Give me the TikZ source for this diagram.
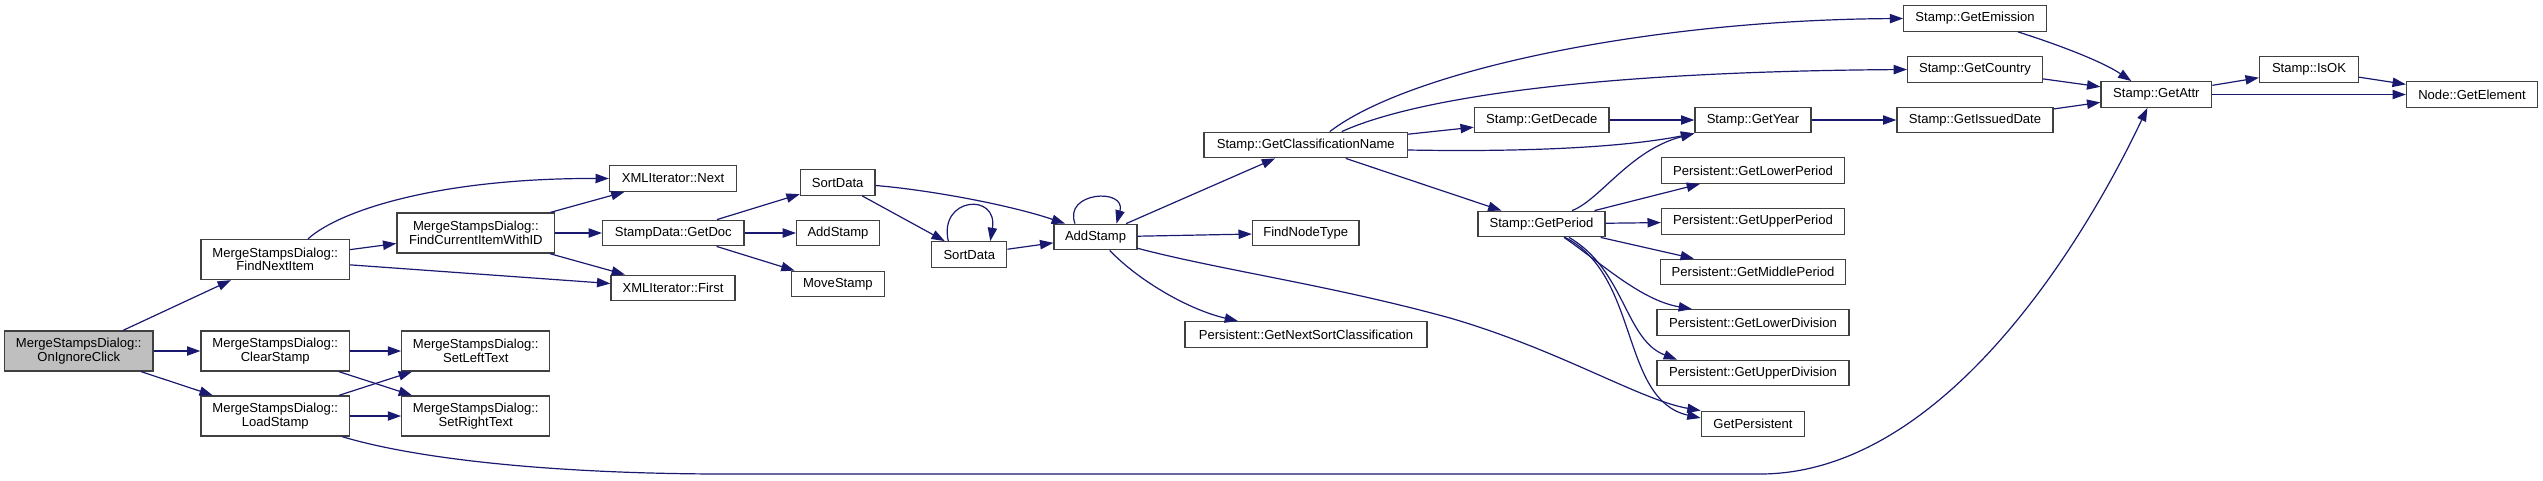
\documentclass[tikz,border=0pt]{standalone}
\usepackage{fontspec}
\setmainfont{Liberation Sans}
\usetikzlibrary{arrows.meta,calc}
\definecolor{edgecol}{HTML}{191970}
\definecolor{boxcol}{HTML}{404040}
\definecolor{startfill}{HTML}{BFBFBF}
\tikzset{
  nd/.style={draw=boxcol, line width=1pt, fill=white, align=center, inner sep=0pt,
    font=\fontsize{9.8pt}{10.2pt}\selectfont},
  bx/.style 2 args={minimum width=#1*0.75pt, minimum height=#2*0.75pt},
  ed/.style={draw=edgecol, line width=0.9pt,
    -{Triangle[length=10pt,width=7pt,fill=edgecol]}}
}
\begin{document}
\begin{tikzpicture}[x=0.75pt,y=-0.75pt]
\useasboundingbox (0,0) rectangle (2543,480);
% nodes
\node[nd,bx={148.5}{40},fill=startfill] (oic) at (78.75,351) {MergeStampsDialog::\\OnIgnoreClick};
\node[nd,bx={148.5}{40}] (fni) at (275.25,259.5) {MergeStampsDialog::\\FindNextItem};
\node[nd,bx={148.5}{40}] (cls) at (275.25,351) {MergeStampsDialog::\\ClearStamp};
\node[nd,bx={148.5}{40}] (lds) at (275.25,416) {MergeStampsDialog::\\LoadStamp};
\node[nd,bx={157.7}{40}] (fci) at (475.85,233) {MergeStampsDialog::\\FindCurrentItemWithID};
\node[nd,bx={148}{40}] (slt) at (475.75,351) {MergeStampsDialog::\\SetLeftText};
\node[nd,bx={148}{40}] (srt) at (475.75,416) {MergeStampsDialog::\\SetRightText};
\node[nd,bx={127}{25.5}] (nxt) at (673,178.5) {XMLIterator::Next};
\node[nd,bx={124}{25.5}] (fst) at (673,288) {XMLIterator::First};
\node[nd,bx={141.4}{25.5}] (gdc) at (673.3,233) {StampData::GetDoc};
\node[nd,bx={74.6}{25.5}] (sd1) at (837.7,182.5) {SortData};
\node[nd,bx={82.7}{25.5}] (as1) at (838,233) {AddStamp};
\node[nd,bx={92.6}{25.5}] (mvs) at (837.9,284) {MoveStamp};
\node[nd,bx={75}{25.5}] (sd2) at (969.3,254.5) {SortData};
\node[nd,bx={83}{25.5}] (ads) at (1095.5,237) {AddStamp};
\node[nd,bx={203.5}{25.5}] (gcn) at (1305.75,145) {Stamp::GetClassificationName};
\node[nd,bx={106.5}{25.5}] (fnt) at (1305.75,233) {FindNodeType};
\node[nd,bx={242}{25.5}] (gns) at (1306,334.5) {Persistent::GetNextSortClassification};
\node[nd,bx={142.5}{25.5}] (gem) at (1975,18.5) {Stamp::GetEmission};
\node[nd,bx={134.7}{25.5}] (gco) at (1975,69.5) {Stamp::GetCountry};
\node[nd,bx={134.5}{25.5}] (gdec) at (1541.75,120) {Stamp::GetDecade};
\node[nd,bx={116}{25.5}] (gyr) at (1753,120) {Stamp::GetYear};
\node[nd,bx={156}{25.5}] (gid) at (1975,120) {Stamp::GetIssuedDate};
\node[nd,bx={127}{25.5}] (gpr) at (1541.5,224) {Stamp::GetPeriod};
\node[nd,bx={183}{25.5}] (glp) at (1753,170.5) {Persistent::GetLowerPeriod};
\node[nd,bx={183}{25.5}] (gup) at (1753,221.5) {Persistent::GetUpperPeriod};
\node[nd,bx={185.5}{25.5}] (gmp) at (1753,272) {Persistent::GetMiddlePeriod};
\node[nd,bx={192}{25.5}] (gld) at (1753,322.5) {Persistent::GetLowerDivision};
\node[nd,bx={192}{25.5}] (gud) at (1753,373) {Persistent::GetUpperDivision};
\node[nd,bx={103.4}{25.5}] (gps) at (1753,424) {GetPersistent};
\node[nd,bx={110.7}{25.5}] (gat) at (2156.35,94.5) {Stamp::GetAttr};
\node[nd,bx={99}{25.5}] (iok) at (2309,69.5) {Stamp::IsOK};
\node[nd,bx={131}{25.5}] (gel) at (2472,94.5) {Node::GetElement};
% edges
\draw[ed] (oic) -- (fni);
\draw[ed] (oic) -- (cls);
\draw[ed] (oic) -- (lds);
\draw[ed] ($(fni.north)+(32.75,0)$) .. controls (340,210) and (440,178) .. (nxt.west);
\draw[ed] (fni) -- (fci);
\draw[ed] (fni) -- (fst);
\draw[ed] (fci) -- (nxt);
\draw[ed] (fci) -- (gdc);
\draw[ed] (fci) -- (fst);
\draw[ed] (cls) -- (slt);
\draw[ed] (cls) -- (srt);
\draw[ed] (lds) -- (slt);
\draw[ed] (lds) -- (srt);
\draw[ed] ($(lds.south)+(67,0)$) .. controls (420,460) and (560,474) .. (726,474) -- (1760,474) .. controls (1940,474) and (2080,250) .. ($(gat.south)+(-9,0)$);
\draw[ed] (gdc) -- (sd1);
\draw[ed] (gdc) -- (as1);
\draw[ed] (gdc) -- (mvs);
\draw[ed] ($(sd1.east)+(0,3)$) .. controls (930,190) and (1010,205) .. ($(ads.north)+(-30.5,0)$);
\draw[ed] (sd1) -- (sd2);
\draw[ed] ($(sd2.north)+(-21,0)$) .. controls +(-10,-44) and +(8,-49) .. ($(sd2.north)+(21,0)$);
\draw[ed] (sd2) -- (ads);
\draw[ed] ($(ads.north)+(-20.5,0)$) .. controls +(-12,-32) and +(10,-36) .. ($(ads.north)+(21,0)$);
\draw[ed] (ads) -- (gcn);
\draw[ed] (ads) -- (fnt);
\draw[ed] ($(ads.south)+(14.2,0)$) .. controls (1140,282) and (1190,310) .. ($(gns.north)+(-68,0)$);
\draw[ed] ($(ads.east)+(0,11.3)$) .. controls (1220,270) and (1330,285) .. (1450,318) .. controls (1560,350) and (1640,400) .. (gps.north west);
\draw[ed] ($(gcn.north)+(24,0)$) .. controls (1410,70) and (1650,20) .. (gem.west);
\draw[ed] ($(gcn.north)+(36,0)$) .. controls (1400,105) and (1550,72) .. (gco.west);
\draw[ed] (gcn) -- (gdec);
\draw[ed] ($(gcn.east)+(0,5)$) .. controls (1520,152) and (1620,148) .. (gyr.south west);
\draw[ed] (gcn) -- (gpr);
\draw[ed] (gdec) -- (gyr);
\draw[ed] (gyr) -- (gid);
\draw[ed] ($(gpr.north)+(30.5,0)$) .. controls (1600,200) and (1630,150) .. (gyr.south west);
\draw[ed] (gpr) -- (glp);
\draw[ed] (gpr) -- (gup);
\draw[ed] (gpr) -- (gmp);
\draw[ed] ($(gpr.south)+(22.5,0)$) .. controls (1600,262) and (1640,300) .. ($(gld.north)+(-61,0)$);
\draw[ed] ($(gpr.south)+(27.5,0)$) .. controls (1625,270) and (1625,340) .. ($(gud.north)+(-76,0)$);
\draw[ed] ($(gpr.south)+(23.5,0)$) .. controls (1640,275) and (1620,400) .. ($(gps.west)+(0,-6)$);
\draw[ed] ($(gem.south)+(43,0)$) .. controls (2050,42) and (2100,60) .. ($(gat.north)+(-25,0)$);
\draw[ed] (gco) -- (gat);
\draw[ed] (gid) -- (gat);
\draw[ed] (gat) -- (iok);
\draw[ed] (gat) -- (gel);
\draw[ed] (iok) -- (gel);
\end{tikzpicture}
\end{document}
